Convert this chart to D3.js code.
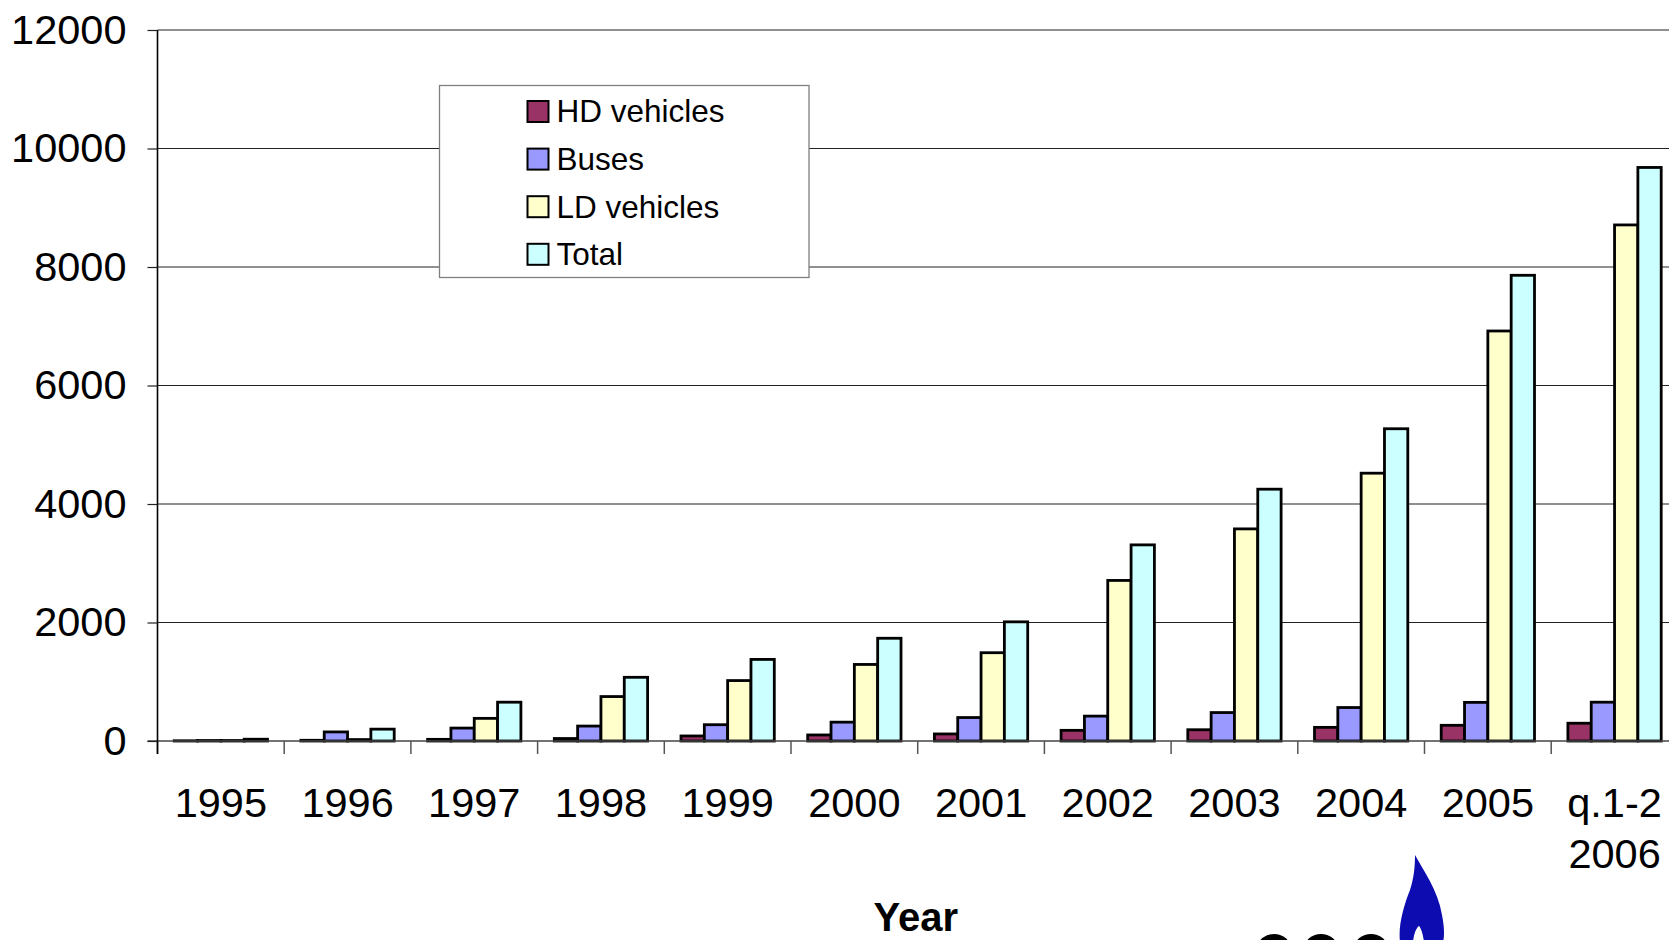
<!DOCTYPE html>
<html>
<head>
<meta charset="utf-8">
<script src="https://cdn.jsdelivr.net/npm/d3@7/dist/d3.min.js"></script>
<style>
html,body{margin:0;padding:0;background:#fff;overflow:hidden;}
svg{display:block;font-family:"Liberation Sans",Arial,sans-serif;}
</style>
</head>
<body>
<svg id="chart" width="1669" height="940"></svg>
<script>
const categories = ["1995","1996","1997","1998","1999","2000","2001","2002","2003","2004","2005","q.1-2\n2006"];
const seriesNames = ["HD vehicles","Buses","LD vehicles","Total"];
const hdVehicles = [4, 12, 28, 42, 85, 102, 119, 180, 190, 230, 265, 300];
const buses      = [8, 153, 218, 252, 275, 318, 396, 420, 480, 565, 652, 655];
const ldVehicles = [8, 24, 382, 750, 1020, 1292, 1490, 2710, 3580, 4520, 6920, 8710];
const total      = [30, 200, 655, 1075, 1377, 1734, 2011, 3310, 4250, 5270, 7860, 9680];
const yTicks = [0, 2000, 4000, 6000, 8000, 10000, 12000];
const colors = ["#993366", "#9999FF", "#FFFFCC", "#CCFFFF"];
const seriesValues = [hdVehicles, buses, ldVehicles, total];

(function () {
const svg = d3.select("#chart");
const W = 1669, H = 940;
const mLeft = 157.5, mTop = 30, mBottom = 741;
const step = 126.7;
const mRight = mLeft + categories.length * step;

const x0 = d3.scaleBand().domain(categories).range([mLeft, mRight])
  .paddingInner(0.2636).paddingOuter(0.1318);
const x1 = d3.scaleBand().domain(seriesNames).range([0, x0.bandwidth()]);
const y = d3.scaleLinear().domain([0, 12000]).range([mBottom, mTop]);
const color = d3.scaleOrdinal().domain(seriesNames).range(colors);

svg.append("defs").append("clipPath").attr("id","plotclip")
  .append("rect").attr("x", 0).attr("y", 0).attr("width", W).attr("height", H);

// gridlines
svg.append("g").selectAll("line").data(yTicks.filter(d => d > 0)).join("line")
  .attr("x1", mLeft).attr("x2", W)
  .attr("y1", d => y(d)).attr("y2", d => y(d))
  .attr("stroke", "#222").attr("stroke-width", 1.2);

// bars
const rows = categories.map((c, i) => ({cat: c, vals: seriesNames.map((s, j) => ({s, v: seriesValues[j][i]}))}));
svg.append("g").attr("clip-path","url(#plotclip)")
  .selectAll("g").data(rows).join("g")
  .attr("transform", d => `translate(${x0(d.cat)},0)`)
  .selectAll("rect").data(d => d.vals).join("rect")
  .attr("x", d => x1(d.s))
  .attr("width", x1.bandwidth())
  .attr("y", d => y(d.v))
  .attr("height", d => y(0) - y(d.v))
  .attr("fill", d => color(d.s))
  .attr("stroke", "#000").attr("stroke-width", 2.8);

// x axis baseline and boundary ticks
const outerPad = (x0.step() - x0.bandwidth()) / 2;
const boundaries = categories.map(c => x0(c) - outerPad);
svg.append("line").attr("x1", mLeft - 10).attr("x2", W)
  .attr("y1", mBottom).attr("y2", mBottom)
  .attr("stroke", "#444").attr("stroke-width", 1.5);
svg.append("g").selectAll("line").data(boundaries).join("line")
  .attr("x1", d => d).attr("x2", d => d)
  .attr("y1", mBottom).attr("y2", mBottom + 13)
  .attr("stroke", "#555").attr("stroke-width", 1.5);

// x labels
const xAxis = d3.axisBottom(x0).tickSize(0).tickFormat("");
const xg = svg.append("g").attr("transform", `translate(0,${mBottom})`).call(xAxis);
xg.select(".domain").remove();
xg.selectAll(".tick").each(function(d) {
  const t = d3.select(this).append("text")
    .attr("text-anchor", "middle").attr("fill", "#000")
    .style("font-size", "41.5px");
  d.split("\n").forEach((line, i) => {
    t.append("tspan").attr("x", 0).attr("y", 76 + i * 51).text(line);
  });
});

// y axis
const yAxis = d3.axisLeft(y).tickValues(yTicks).tickSize(10).tickPadding(21).tickFormat(d3.format("d"));
const yg = svg.append("g").attr("transform", `translate(${mLeft},0)`).call(yAxis);
yg.select(".domain").attr("stroke", "#000").attr("stroke-width", 1.6).attr("d", `M0,${mTop}V${mBottom + 13}`);
yg.selectAll(".tick line").attr("stroke", "#222").attr("stroke-width", 1.2);
yg.selectAll(".tick text").style("font-size", "41.5px").attr("fill", "#000")
  .style("font-family", '"Liberation Sans",Arial,sans-serif');

// axis title
svg.append("text").attr("x", mLeft + (mRight - mLeft) / 2 - 2).attr("y", 931)
  .attr("text-anchor", "middle").style("font-size", "40px").style("font-weight", "bold")
  .text("Year");

// legend
const lg = svg.append("g");
lg.append("rect").attr("x", 439.5).attr("y", 85.5).attr("width", 369.5).attr("height", 192)
  .attr("fill", "#fff").attr("stroke", "#808080").attr("stroke-width", 1.3);
const items = lg.selectAll("g.item").data(seriesNames).join("g").attr("class","item")
  .attr("transform", (d, i) => `translate(527.5,${101 + i * 47.6})`);
items.append("rect").attr("width", 21).attr("height", 21)
  .attr("fill", d => color(d)).attr("stroke", "#000").attr("stroke-width", 2);
items.append("text").attr("x", 29).attr("y", 21.3).style("font-size", "31.5px").text(d => d);

// logo (decorative)
const logo = svg.append("g");
logo.append("path")
  .attr("d", "M1415,855 C1423,870 1438,890 1442,915 C1445,930 1444,938 1443,942 L1424,942 C1423,934 1421,928 1419,926 C1416,928 1414,934 1413,942 L1400,942 C1398,925 1404,905 1410,890 C1414,878 1415,866 1415,855 Z")
  .attr("fill", "#0c0cb0");
[1274, 1321, 1371].forEach(cx => {
  logo.append("ellipse").attr("cx", cx).attr("cy", 947).attr("rx", 16).attr("ry", 13).attr("fill", "#000");
});
})();
</script>
</body>
</html>
